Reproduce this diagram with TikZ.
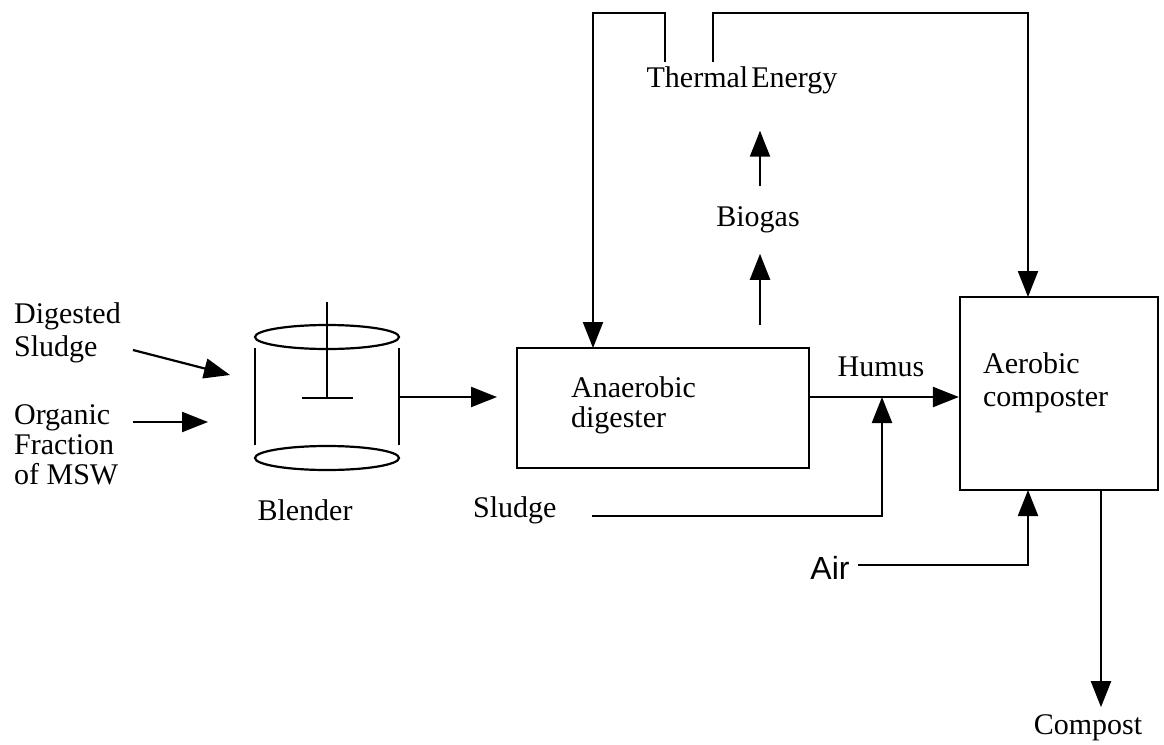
\documentclass[tikz,border=0pt]{standalone}
\usepackage{fontspec}
\setmainfont{Liberation Serif}
\newfontfamily\airfont{Liberation Sans}
\usetikzlibrary{arrows.meta}
\begin{document}
\begin{tikzpicture}[x=0.5pt, y=-0.5pt, line width=1.1pt,
    flow/.style={-{Triangle[length=13pt,width=10pt]}},
    unit/.style={draw, inner sep=0pt},
    lbl/.style={font=\fontsize{15}{16.5}\selectfont, inner sep=0pt}]
    \useasboundingbox (0,0) rectangle (1164,745);
    % Blender
    \draw (327,337) ellipse [x radius=36pt, y radius=6pt];
    \draw (327,458) ellipse [x radius=36pt, y radius=6pt];
    \draw (255,348) -- (255,445); \draw (399,348) -- (399,445);
    \draw (327,302) -- (327,398); \draw (302,398) -- (353,398);
    % Units
    \node[unit, minimum width=146pt, minimum height=60pt] (dig) at (663,408) {};
    \node[unit, minimum width=99pt, minimum height=96.5pt] (aer) at (1059,393.5) {};
    % Labels
    \node[lbl, anchor=west, align=left] (ds) at (13,333) {Digested\\Sludge};
    \node[lbl, anchor=west, align=left, font=\fontsize{15}{15}\selectfont] (msw) at (13,445) {Organic\\Fraction\\of MSW};
    \node[lbl] (bld) at (305,510) {Blender};
    \node[lbl, anchor=west, align=left, font=\fontsize{15}{15}\selectfont] (digtxt) at (570,405) {Anaerobic\\digester};
    \node[lbl, anchor=west, align=left] (aertxt) at (982,383) {Aerobic\\composter};
    \node[lbl, anchor=west] (sl) at (472,510) {Sludge};
    \node[lbl] (hum) at (881,367) {Humus};
    \node[lbl, font=\airfont\fontsize{16}{18}\selectfont] (air) at (830,568) {Air};
    \node[lbl, inner ysep=9.75pt] (bio) at (758,220) {Biogas};
    \node[lbl, inner ysep=18pt] (th) at (742,80) {Thermal\hspace{0.1em}Energy};
    \node[lbl, inner ysep=3.3pt] (cmp) at (1088,728) {Compost};
    % Ends of the flows
    \coordinate (ds0) at (133,350); \coordinate (ds1) at (230,375);
    \coordinate (msw0) at (133,422); \coordinate (msw1) at (208,422);
    \coordinate (bl0) at (399,397); \coordinate (bl1) at (497,397);
    \coordinate (gas) at (760,325);
    \coordinate (thl) at (665,62); \coordinate (thr) at (713,62);
    \coordinate (digtop) at (593,348); \coordinate (aertop) at (1028,297);
    \coordinate (digout) at (809,397); \coordinate (mix) at (882,397);
    \coordinate (sl0) at (592,516); \coordinate (air0) at (858,565);
    \coordinate (aerbot) at (1028,490); \coordinate (aerout) at (1101,490);
    % Flows
    \draw[flow] (ds0) -- (ds1);
    \draw[flow] (msw0) -- (msw1);
    \draw[flow] (bl0) -- (bl1);
    \draw[flow] (gas) -- (bio.south -| gas);
    \draw[flow] (bio.north -| gas) -- (th.south -| gas);
    \draw[flow] (thl) -- ++(0,-49) -| (digtop);
    \draw[flow] (thr) -- ++(0,-49) -| (aertop);
    \draw[flow] (digout) -- (digout -| aer.west);
    \draw[flow] (sl0) -| (mix);
    \draw[flow] (air0) -| (aerbot);
    \draw[flow] (aerout) -- (cmp.north -| aerout);
\end{tikzpicture}
\end{document}
